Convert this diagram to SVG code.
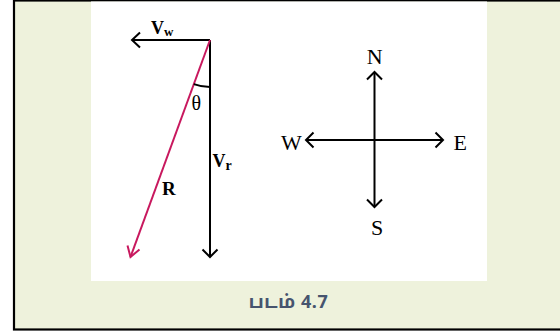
<svg xmlns="http://www.w3.org/2000/svg" width="560" height="331" viewBox="0 0 560 331">
<style>
.ln{stroke:#000;stroke-width:2;fill:none}
.red{stroke:#c8185e;stroke-width:2;fill:none}
.lbl{font-family:"Liberation Serif","Times New Roman",serif;fill:#000}
.b{font-weight:bold}
.cap{font-family:"Noto Sans","Noto Sans Tamil","Lohit Tamil",sans-serif;font-size:18px;font-weight:bold;fill:#46546e;letter-spacing:0.6px}
</style>
<rect x="0" y="0" width="560" height="331" fill="#fff"/>
<rect x="14" y="0.5" width="560" height="329" fill="#eef2dc" stroke="#000" stroke-width="2.2"/>
<rect x="91" y="1.5" width="396" height="279.5" fill="#fff"/>
<g id="connectors">
  <g id="vw-arrow">
    <line class="ln" x1="210" y1="40" x2="132" y2="40"/>
    <polyline class="ln" points="140,32.5 132,40 140,47.5"/>
  </g>
  <g id="vr-arrow">
    <line class="ln" x1="210" y1="40" x2="210" y2="257"/>
    <polyline class="ln" points="202.5,249.5 210,257 217.5,249.5"/>
  </g>
  <g id="r-arrow">
    <line class="red" x1="210" y1="40" x2="130.5" y2="257"/>
    <polyline class="red" points="127.5,245.5 130.5,257 139.5,249.5"/>
  </g>
  <path class="ln" d="M193.8,84.1 A47,47 0 0 0 210,87" stroke-width="1.6"/>
  <g id="compass">
    <line class="ln" x1="374.5" y1="72" x2="374.5" y2="207"/>
    <polyline class="ln" points="367,79.5 374.5,72 382,79.5"/>
    <polyline class="ln" points="367,199.5 374.5,207 382,199.5"/>
    <line class="ln" x1="306" y1="140" x2="443" y2="140"/>
    <polyline class="ln" points="313.5,132.5 306,140 313.5,147.5"/>
    <polyline class="ln" points="435.5,132.5 443,140 435.5,147.5"/>
  </g>
</g>
<g id="node-vw"><text class="lbl b" x="151" y="34" font-size="18">V<tspan font-size="13" dy="2">w</tspan></text></g>
<g id="node-vr"><text class="lbl b" x="212.5" y="167" font-size="18">V<tspan font-size="14" dy="3">r</tspan></text></g>
<g id="node-r"><text class="lbl b" x="162" y="194.5" font-size="19">R</text></g>
<g id="node-theta"><text class="lbl" x="191.5" y="109.5" font-size="20">θ</text></g>
<g id="node-n"><text class="lbl" x="374.8" y="64" font-size="22" text-anchor="middle">N</text></g>
<g id="node-s"><text class="lbl" x="377" y="235" font-size="22" text-anchor="middle">S</text></g>
<g id="node-w"><text class="lbl" x="281" y="150" font-size="22">W</text></g>
<g id="node-e"><text class="lbl" x="453.5" y="150" font-size="22">E</text></g>
<g id="caption"><text class="cap" x="288.5" y="308" text-anchor="middle">படம் 4.7</text></g>
</svg>
